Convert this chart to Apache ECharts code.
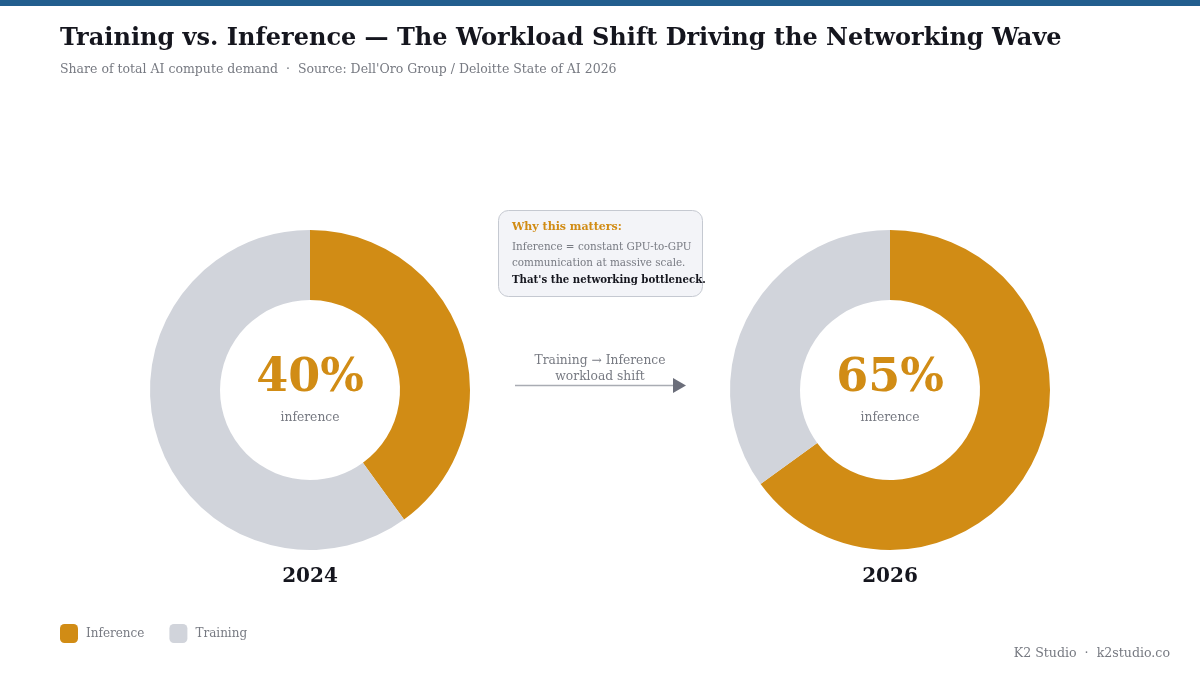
<!DOCTYPE html>
<html>
<head>
<meta charset="utf-8">
<script src="https://cdn.jsdelivr.net/npm/echarts@6/dist/echarts.min.js"></script>
<style>
html,body{margin:0;padding:0;background:#fff;}
#chart{width:1200px;height:675px;}
</style>
</head>
<body>
<div id="chart"></div>
<script>
// ---- data ----
const categories = ['Inference', 'Training'];
const years = ['2024', '2026'];
const share2024 = [40, 60];
const share2026 = [65, 35];
const centerLabel = 'inference';

const FONT = '"DejaVu Serif", serif';
const GOLD = '#d18c15';
const GRAY = '#d1d4db';
const MUTED = '#777a82';
const DARK = '#15161e';

const chart = echarts.init(document.getElementById('chart'), null, {renderer: 'canvas'});

function pie(name, values, cx) {
  return {
    type: 'pie',
    name: name,
    center: [cx, 390],
    radius: [90, 160],
    startAngle: 90,
    clockwise: true,
    silent: true,
    label: {show: false},
    labelLine: {show: false},
    itemStyle: {borderWidth: 0},
    emphasis: {disabled: true},
    data: categories.map((c, i) => ({name: c, value: values[i]}))
  };
}

const option = {
  backgroundColor: '#ffffff',
  animation: false,
  color: [GOLD, GRAY],
  title: [
    {text: 'Training vs. Inference — The Workload Shift Driving the Networking Wave', left: 55, top: 22,
     textStyle: {fontFamily: FONT, fontSize: 24, fontWeight: 'bold', color: DARK}},
    {text: "Share of total AI compute demand  ·  Source: Dell'Oro Group / Deloitte State of AI 2026", left: 55, top: 58,
     textStyle: {fontFamily: FONT, fontSize: 12.5, fontWeight: 'normal', color: MUTED}}
  ],
  legend: {
    data: categories,
    left: 55, top: 619,
    icon: 'roundRect',
    itemWidth: 18, itemHeight: 19, itemGap: 25,
    selectedMode: false,
    textStyle: {fontFamily: FONT, fontSize: 12, color: MUTED, padding: [0, 0, 0, 3]}
  },
  series: [pie(years[0], share2024, 310), pie(years[1], share2026, 890)],
  graphic: [
    {type: 'rect', left: 0, top: 0, shape: {width: 1200, height: 6}, style: {fill: '#225e8e'}, silent: true},
    // center labels
    {type: 'text', x: 310, y: 379, style: {text: share2024[0] + '%', fontFamily: FONT, fontSize: 46, fontWeight: 'bold', fill: GOLD, align: 'center', verticalAlign: 'middle'}},
    {type: 'text', x: 310, y: 417.5, style: {text: centerLabel, fontFamily: FONT, fontSize: 12.3, fill: MUTED, align: 'center', verticalAlign: 'middle'}},
    {type: 'text', x: 890, y: 379, style: {text: share2026[0] + '%', fontFamily: FONT, fontSize: 46, fontWeight: 'bold', fill: GOLD, align: 'center', verticalAlign: 'middle'}},
    {type: 'text', x: 890, y: 417.5, style: {text: centerLabel, fontFamily: FONT, fontSize: 12.3, fill: MUTED, align: 'center', verticalAlign: 'middle'}},
    // years
    {type: 'text', x: 310, y: 577, style: {text: years[0], fontFamily: FONT, fontSize: 20, fontWeight: 'bold', fill: DARK, align: 'center', verticalAlign: 'middle'}},
    {type: 'text', x: 890, y: 577, style: {text: years[1], fontFamily: FONT, fontSize: 20, fontWeight: 'bold', fill: DARK, align: 'center', verticalAlign: 'middle'}},
    // callout box
    {type: 'rect', x: 498.5, y: 210.5, shape: {width: 204, height: 86, r: 10}, style: {fill: '#f3f4f8', stroke: '#c5c9d1', lineWidth: 1}},
    {type: 'text', x: 512, y: 227.5, style: {text: 'Why this matters:', fontFamily: FONT, fontSize: 11, fontWeight: 'bold', fill: GOLD, verticalAlign: 'middle'}},
    {type: 'text', x: 512, y: 247.5, style: {text: 'Inference = constant GPU-to-GPU', fontFamily: FONT, fontSize: 10.4, fill: MUTED, verticalAlign: 'middle'}},
    {type: 'text', x: 512, y: 263.5, style: {text: 'communication at massive scale.', fontFamily: FONT, fontSize: 10.4, fill: MUTED, verticalAlign: 'middle'}},
    {type: 'text', x: 512, y: 280, style: {text: "That's the networking bottleneck.", fontFamily: FONT, fontSize: 10.2, fontWeight: 'bold', fill: DARK, verticalAlign: 'middle'}},
    // arrow
    {type: 'text', x: 600, y: 360.5, style: {text: 'Training → Inference', fontFamily: FONT, fontSize: 12.3, fill: MUTED, align: 'center', verticalAlign: 'middle'}},
    {type: 'text', x: 600, y: 376.5, style: {text: 'workload shift', fontFamily: FONT, fontSize: 12.3, fill: MUTED, align: 'center', verticalAlign: 'middle'}},
    {type: 'line', shape: {x1: 515, y1: 385.5, x2: 676, y2: 385.5}, style: {stroke: '#a9acb3', lineWidth: 1.5}},
    {type: 'polygon', shape: {points: [[673, 378], [686, 385.5], [673, 393]]}, style: {fill: '#6b6e7a'}},
    // footer
    {type: 'text', right: 30, top: 647, style: {text: 'K2 Studio  ·  k2studio.co', fontFamily: FONT, fontSize: 12.6, fill: MUTED}}
  ]
};
chart.setOption(option);
</script>
</body>
</html>
